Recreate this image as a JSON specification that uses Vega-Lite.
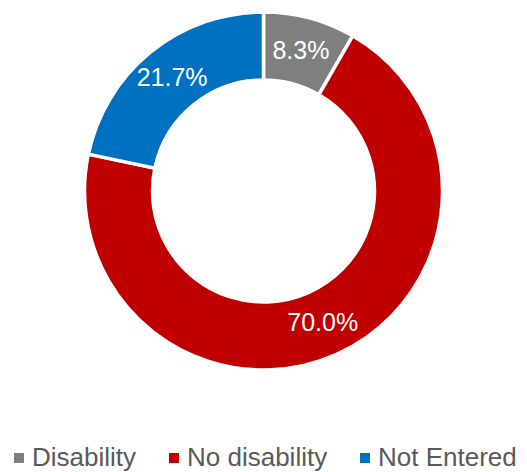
{
  "$schema": "https://vega.github.io/schema/vega-lite/v6.json",
  "width": 527,
  "height": 382,
  "padding": 0,
  "background": "white",
  "config": {"view": {"stroke": null}, "font": "Liberation Sans"},
  "data": {
    "values": [
      {"category": "Disability", "value": 0.083},
      {"category": "No disability", "value": 0.700},
      {"category": "Not Entered", "value": 0.217}
    ]
  },
  "encoding": {
    "theta": {"field": "value", "type": "quantitative", "stack": true},
    "color": {
      "field": "category",
      "type": "nominal",
      "scale": {"domain": ["Disability", "No disability", "Not Entered"], "range": ["#7F7F7F", "#C00000", "#0070C0"]},
      "legend": {
        "title": null,
        "orient": "bottom",
        "direction": "horizontal",
        "symbolType": "square",
        "symbolSize": 100,
        "symbolStrokeWidth": 0,
        "labelFontSize": 26,
        "labelColor": "#595959",
        "labelOffset": 0,
        "columnPadding": 24,
        "padding": 6,
        "offset": 57
      }
    }
  },
  "layer": [
    {"mark": {"type": "arc", "outerRadius": 179, "innerRadius": 111, "stroke": "white", "strokeWidth": 3.5}},
    {
      "mark": {"type": "text", "radius": 145, "fontSize": 25, "fill": "white"},
      "encoding": {"text": {"field": "value", "type": "quantitative", "format": ".1%"}}
    }
  ]
}
